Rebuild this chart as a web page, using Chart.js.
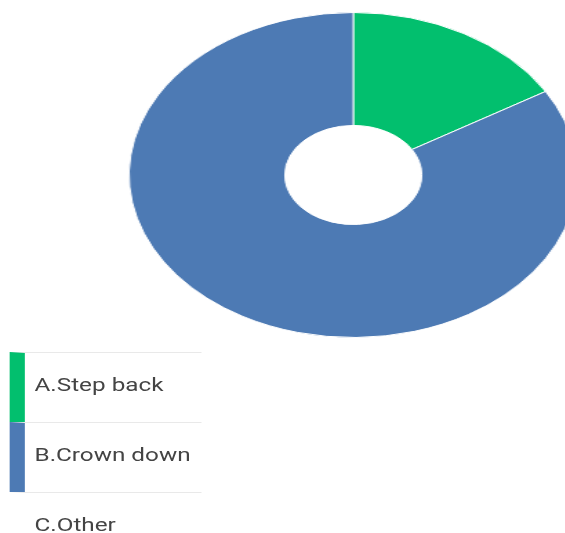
<!DOCTYPE html>
<html>
<head>
<meta charset="utf-8">
<script src="https://cdn.jsdelivr.net/npm/chart.js@4"></script>
<style>
  html, body { margin: 0; padding: 0; background: #fff; overflow: hidden; }
  #page {
    position: relative;
    width: 410px;
    height: 533px;
    transform: scaleX(1.38);
    transform-origin: 0 0;
    font-family: Roboto, "Noto Sans", sans-serif;
  }
  #chartBox { position: absolute; left: 93px; top: 12px; width: 326px; height: 326px; }
  #legend { position: absolute; left: 7px; top: 352px; width: 139px; }
  .row {
    height: 69px;
    border-top: 1px solid #e9e9e9;
    border-left: 11px solid transparent;
    display: flex;
    align-items: center;
    padding-left: 7px;
    padding-bottom: 5px;
    box-sizing: content-box;
    font-size: 17.6px;
    color: #444;
    white-space: nowrap;
  }
</style>
</head>
<body>
<div id="page">
  <div id="chartBox"><canvas id="pie"></canvas></div>
  <div id="legend"></div>
</div>
<script>
const labels = ['A.Step back', 'B.Crown down', 'C.Other'];
const values = [16.4, 83.6, 0];
const colors = ['#02bf6e', '#4d7ab4', '#ffffff'];

// legend rows: colour bar on the left, separator on top
const legend = document.getElementById('legend');
labels.forEach((name, i) => {
  const row = document.createElement('div');
  row.className = 'row';
  row.style.height = '64px';
  row.style.borderLeftColor = values[i] > 0 ? colors[i] : 'transparent';
  row.textContent = name;
  legend.appendChild(row);
});

new Chart(document.getElementById('pie').getContext('2d'), {
  type: 'doughnut',
  data: {
    labels: labels,
    datasets: [{
      data: values,
      backgroundColor: colors,
      borderColor: '#ffffff',
      borderWidth: 1
    }]
  },
  options: {
    responsive: true,
    maintainAspectRatio: false,
    animation: false,
    cutout: '30.5%',
    plugins: {
      legend: { display: false },
      tooltip: { enabled: false }
    }
  }
});
</script>
</body>
</html>
